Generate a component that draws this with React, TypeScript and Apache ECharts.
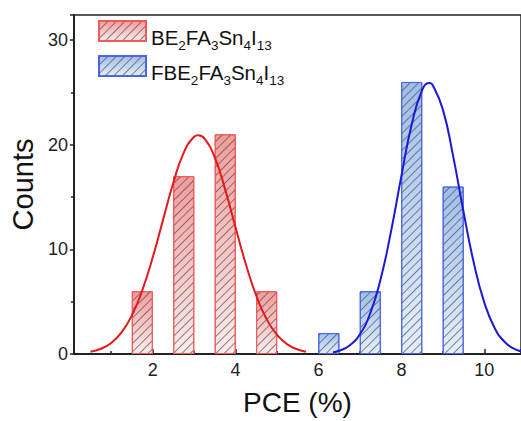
import React, { useEffect, useRef } from 'react';
import * as echarts from 'echarts';

// ---- data ----
const seriesNames = ['BE2FA3Sn4I13', 'FBE2FA3Sn4I13'];
const legendLabels: Record<string, string> = {
  BE2FA3Sn4I13: '{n|BE}{s|2}{n|FA}{s|3}{n|Sn}{s|4}{n|I}{s|13}',
  FBE2FA3Sn4I13: '{n|FBE}{s|2}{n|FA}{s|3}{n|Sn}{s|4}{n|I}{s|13}',
};
const binWidth = 0.5;
const redBinCenters = [1.75, 2.75, 3.75, 4.75];
const redCounts = [6, 17, 21, 6];
const blueBinCenters = [6.25, 7.25, 8.25, 9.25];
const blueCounts = [2, 6, 26, 16];

const redFitX = [0.5, 0.75, 1, 1.25, 1.5, 1.75, 2, 2.25, 2.5, 2.75, 3, 3.1, 3.25, 3.5, 3.75, 4, 4.25, 4.5, 4.75, 5, 5.25, 5.5, 5.7];
const redFitY = [0.22, 0.5, 1.06, 2.07, 3.7, 6.1, 9.22, 12.82, 16.39, 19.24, 20.76, 20.9, 20.58, 18.76, 15.71, 12.09, 8.55, 5.56, 3.32, 1.82, 0.92, 0.43, 0.22];
const blueFitX = [6.35, 6.5, 6.75, 7, 7.25, 7.5, 7.75, 8, 8.25, 8.5, 8.67, 8.75, 9, 9.25, 9.5, 9.75, 10, 10.25, 10.5, 10.75, 11];
const blueFitY = [0.17, 0.31, 0.82, 1.89, 3.91, 7.17, 11.71, 17.0, 21.95, 25.21, 25.9, 25.74, 23.38, 18.89, 13.57, 8.67, 4.93, 2.49, 1.12, 0.45, 0.16];

const xMin = 0.1;
const xMax = 10.886;
const yMin = 0;
const yMax = 32.4;
const yInterval = 10;

const zip = (xs: number[], ys: number[]) => xs.map((x, i) => [x, ys[i]]);

export default function App() {
  const ref = useRef<HTMLDivElement>(null);
  useEffect(() => {
    const chart = echarts.init(ref.current!, null, { renderer: 'svg' });
    const font = '"Liberation Sans", Arial, sans-serif';
    const axisColor = '#222';
    const W = 521;
    const gridLeft = 69, gridRight = -2, gridTop = 15, gridBottom = 66;
    const pxPerUnit = (W - gridLeft - gridRight) / (xMax - xMin);
    const barW = binWidth * pxPerUnit;
    const hatch = {
      symbol: 'rect',
      symbolSize: 1,
      dashArrayX: [1, 0],
      dashArrayY: [1, 4.5],
      rotation: -Math.PI / 4,
      color: 'rgba(70,70,70,0.65)',
    };
    const grad = (top: string, bottom: string) =>
      new echarts.graphic.LinearGradient(0, 0, 0, 1, [
        { offset: 0, color: top },
        { offset: 1, color: bottom },
      ]);

    chart.setOption({
      animation: false,
      grid: {
        left: gridLeft, right: gridRight, top: gridTop, bottom: gridBottom,
        show: true, borderColor: axisColor, borderWidth: 1.5,
      },
      legend: {
        data: seriesNames,
        orient: 'vertical',
        icon: 'rect',
        left: 98,
        top: 20,
        padding: 0,
        itemGap: 3,
        itemWidth: 47,
        itemHeight: 20,
        selectedMode: false,
        formatter: (name: string) => legendLabels[name] || name,
        textStyle: {
          fontFamily: font,
          color: '#111',
          rich: {
            n: { fontFamily: font, fontSize: 20.5, lineHeight: 20, color: '#111', verticalAlign: 'top', padding: [6, 0, 0, 0] },
            s: { fontFamily: font, fontSize: 13.5, lineHeight: 13, color: '#111', verticalAlign: 'top', padding: [17, 0, 0, 0] },
          },
        },
      },
      xAxis: {
        type: 'value',
        min: xMin,
        max: xMax,
        splitNumber: 5,
        name: 'PCE (%)',
        nameLocation: 'middle',
        nameGap: 34,
        nameTextStyle: { fontFamily: font, fontSize: 28, color: '#111' },
        axisLine: { show: true, lineStyle: { color: axisColor, width: 2 } },
        axisTick: { show: true, inside: true, length: 5, lineStyle: { color: axisColor, width: 1.5 } },
        minorTick: { show: true, splitNumber: 2, length: 3, lineStyle: { color: axisColor, width: 1.5 } },
        axisLabel: { fontFamily: font, fontSize: 18, color: '#222', margin: 7, showMinLabel: false, showMaxLabel: false },
        splitLine: { show: false },
      },
      yAxis: {
        type: 'value',
        min: yMin,
        max: yMax,
        interval: yInterval,
        name: 'Counts',
        nameLocation: 'middle',
        nameGap: 31,
        nameTextStyle: { fontFamily: font, fontSize: 29, color: '#111' },
        axisLine: { show: true, lineStyle: { color: axisColor, width: 2 } },
        axisTick: { show: true, inside: false, length: 4, lineStyle: { color: axisColor, width: 1.5 } },
        minorTick: { show: true, splitNumber: 2, length: 3, lineStyle: { color: axisColor, width: 1.5 } },
        axisLabel: { fontFamily: font, fontSize: 18, color: '#222', margin: 6, showMaxLabel: false },
        splitLine: { show: false },
      },
      series: [
        {
          name: seriesNames[0],
          type: 'bar',
          barWidth: barW,
          barGap: '-100%',
          data: zip(redBinCenters, redCounts),
          itemStyle: {
            color: grad('rgba(244,155,155,1)', 'rgba(252,236,236,1)'),
            borderColor: '#f05a5a',
            borderWidth: 1,
            decal: hatch,
          },
        },
        {
          name: seriesNames[1],
          type: 'bar',
          barWidth: barW,
          barGap: '-100%',
          data: zip(blueBinCenters, blueCounts),
          itemStyle: {
            color: grad('rgba(160,190,236,1)', 'rgba(228,239,251,1)'),
            borderColor: '#4a66e0',
            borderWidth: 1,
            decal: hatch,
          },
        },
        {
          name: 'BE fit',
          type: 'line',
          smooth: true,
          showSymbol: false,
          data: zip(redFitX, redFitY),
          lineStyle: { color: '#e31a1c', width: 2 },
          itemStyle: { color: '#e31a1c' },
        },
        {
          name: 'FBE fit',
          type: 'line',
          smooth: true,
          showSymbol: false,
          data: zip(blueFitX, blueFitY),
          lineStyle: { color: '#1a1ad6', width: 2 },
          itemStyle: { color: '#1a1ad6' },
        },
      ],
    });
    return () => chart.dispose();
  }, []);
  return (
    <div
      ref={ref}
      style={{ position: 'absolute', left: 0, top: 0, width: 521, height: 421, background: '#fff' }}
    />
  );
}
